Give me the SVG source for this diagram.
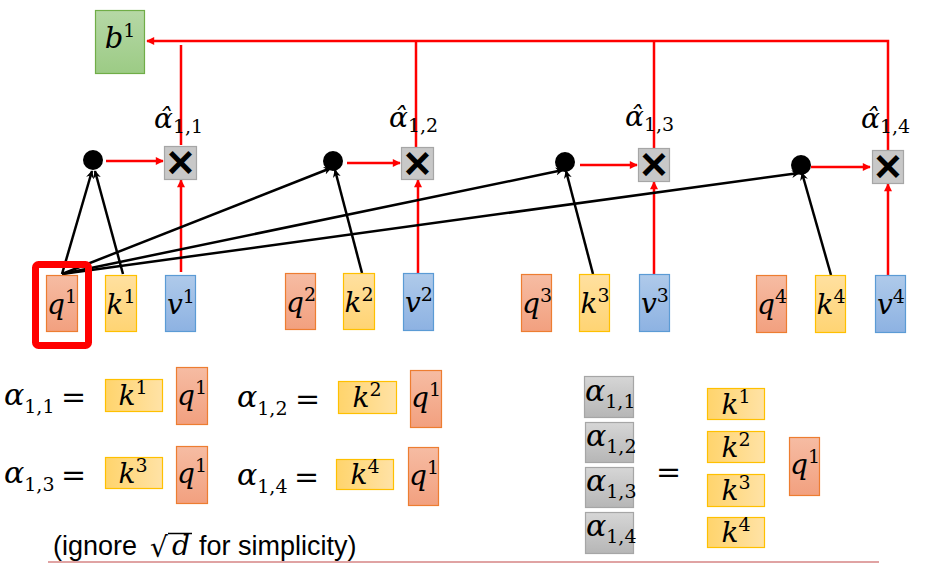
<svg xmlns="http://www.w3.org/2000/svg" width="930" height="573" viewBox="0 0 930 573">
<defs>
<linearGradient id="gq" x1="0" y1="0" x2="0" y2="1"><stop offset="0" stop-color="#f6bca3"/><stop offset="1" stop-color="#f2a07f"/></linearGradient>
<linearGradient id="gk" x1="0" y1="0" x2="0" y2="1"><stop offset="0" stop-color="#ffe0a0"/><stop offset="1" stop-color="#ffd473"/></linearGradient>
<linearGradient id="gkh" x1="0" y1="0" x2="1" y2="0"><stop offset="0" stop-color="#ffd46c"/><stop offset="1" stop-color="#ffe2a6"/></linearGradient>
<linearGradient id="gv" x1="0" y1="0" x2="0" y2="1"><stop offset="0" stop-color="#afcaea"/><stop offset="1" stop-color="#8db2e2"/></linearGradient>
<linearGradient id="gb" x1="0" y1="0" x2="0" y2="1"><stop offset="0" stop-color="#b6d8a6"/><stop offset="1" stop-color="#9ccb85"/></linearGradient>
<linearGradient id="ga" x1="0" y1="0" x2="0" y2="1"><stop offset="0" stop-color="#d6d6d6"/><stop offset="1" stop-color="#b6b6b6"/></linearGradient>
<marker id="ar" viewBox="0 0 10 10" refX="9" refY="5" markerWidth="9" markerHeight="8" markerUnits="userSpaceOnUse" orient="auto"><path d="M0,0 L10,5 L0,10 z" fill="#ff0000"/></marker>
<marker id="ab" viewBox="0 0 10 10" refX="9" refY="5" markerWidth="8" markerHeight="8" markerUnits="userSpaceOnUse" orient="auto"><path d="M0,0 L10,5 L0,10 L3,5 z" fill="#000"/></marker>
</defs>
<style>
.m{font-family:"DejaVu Serif","Liberation Serif",serif;font-style:italic;fill:#000}
.n{font-style:normal}
.q{fill:url(#gq);stroke:#ed7d31;stroke-width:1.2}
.k{fill:url(#gk);stroke:#ffc000;stroke-width:1.2}
.kh{fill:url(#gkh);stroke:#ffc000;stroke-width:1.2}
.v{fill:url(#gv);stroke:#5b9bd5;stroke-width:1.2}
.g{fill:url(#ga);stroke:#a6a6a6;stroke-width:1.2}
.x{fill:#c8c8c8;stroke:#a6a6a6;stroke-width:1.2}
.r{stroke:#ff0000;stroke-width:2.5;fill:none}
.bl{stroke:#000;stroke-width:2.5;fill:none}
.s{font-family:"Liberation Sans","DejaVu Sans",sans-serif;fill:#000}
.t{font-size:28px}
.sp{font-size:19px;font-style:normal}
.mul{font-family:"Liberation Sans",sans-serif;font-weight:bold;font-size:46px;text-anchor:middle}
</style>

<g id="connectors">
<polyline class="r" points="888,150 888,41 147,41" marker-end="url(#ar)"/>
<line class="r" x1="181" y1="145" x2="181" y2="45"/>
<line class="r" x1="416" y1="147" x2="416" y2="41"/>
<line class="r" x1="654" y1="148" x2="654" y2="41"/>
<line class="r" x1="106" y1="161" x2="163" y2="161" marker-end="url(#ar)"/>
<line class="r" x1="347" y1="163" x2="400" y2="163" marker-end="url(#ar)"/>
<line class="r" x1="580" y1="165" x2="637" y2="165" marker-end="url(#ar)"/>
<line class="r" x1="811" y1="167" x2="870" y2="167" marker-end="url(#ar)"/>
<line class="r" x1="181" y1="272" x2="181" y2="180" marker-end="url(#ar)"/>
<line class="r" x1="418" y1="273" x2="418" y2="180" marker-end="url(#ar)"/>
<line class="r" x1="654" y1="274" x2="654" y2="182" marker-end="url(#ar)"/>
<line class="r" x1="888" y1="276" x2="888" y2="184" marker-end="url(#ar)"/>
<line class="bl" x1="62" y1="274" x2="92" y2="171" marker-end="url(#ab)"/>
<line class="bl" x1="123" y1="274" x2="95" y2="171" marker-end="url(#ab)"/>
<line class="bl" x1="62" y1="274" x2="331" y2="168" marker-end="url(#ab)"/>
<line class="bl" x1="62" y1="274" x2="563" y2="170" marker-end="url(#ab)"/>
<line class="bl" x1="62" y1="274" x2="799" y2="173" marker-end="url(#ab)"/>
<line class="bl" x1="362" y1="273" x2="335" y2="170" marker-end="url(#ab)"/>
<line class="bl" x1="593" y1="274" x2="566" y2="171" marker-end="url(#ab)"/>
<line class="bl" x1="831" y1="275" x2="802" y2="173" marker-end="url(#ab)"/>
</g>

<g id="b1"><rect x="95.5" y="10.5" width="49" height="63" fill="url(#gb)" stroke="#70ad47" stroke-width="1.2"/>
<text class="m" x="120" y="48" font-size="29" text-anchor="middle">b<tspan class="sp" dy="-11">1</tspan></text></g>

<g id="dot1"><circle cx="93" cy="160" r="10"/></g>
<g id="dot2"><circle cx="333" cy="161" r="10"/></g>
<g id="dot3"><circle cx="565" cy="162" r="10"/></g>
<g id="dot4"><circle cx="801" cy="165" r="10"/></g>

<g id="mul1"><rect class="x" x="164.5" y="146.5" width="32" height="33"/><text class="mul" x="180.5" y="178">×</text>
<text class="m" x="154" y="128" font-size="28">α̂<tspan class="sp" font-size="18" dy="5">1,1</tspan></text></g>
<g id="mul2"><rect class="x" x="401.5" y="147.5" width="32" height="32"/><text class="mul" x="417.5" y="179">×</text>
<text class="m" x="389" y="127" font-size="28">α̂<tspan class="sp" font-size="18" dy="5">1,2</tspan></text></g>
<g id="mul3"><rect class="x" x="638.5" y="148.5" width="31" height="33"/><text class="mul" x="654" y="180">×</text>
<text class="m" x="625" y="126" font-size="28">α̂<tspan class="sp" font-size="18" dy="5">1,3</tspan></text></g>
<g id="mul4"><rect class="x" x="872.5" y="150.5" width="31" height="33"/><text class="mul" x="888" y="182">×</text>
<text class="m" x="861" y="128" font-size="28">α̂<tspan class="sp" font-size="18" dy="5">1,4</tspan></text></g>

<g id="q1"><rect class="q" x="46.5" y="275.5" width="31" height="56"/><text class="m t" x="62" y="314" text-anchor="middle">q<tspan class="sp" dy="-11">1</tspan></text>
<rect x="35.5" y="264.5" width="53" height="81" rx="3" fill="none" stroke="#ff0000" stroke-width="7"/></g>
<g id="k1"><rect class="k" x="105.5" y="275.5" width="31" height="56"/><text class="m t" x="121" y="314" text-anchor="middle">k<tspan class="sp" dy="-11">1</tspan></text></g>
<g id="v1"><rect class="v" x="165.5" y="275.5" width="30" height="56"/><text class="m t" x="181" y="314" text-anchor="middle">v<tspan class="sp" dy="-11">1</tspan></text></g>
<g id="q2"><rect class="q" x="285.5" y="273.5" width="30" height="56"/><text class="m t" x="301" y="312" text-anchor="middle">q<tspan class="sp" dy="-11">2</tspan></text></g>
<g id="k2"><rect class="k" x="343.5" y="273.5" width="31" height="56"/><text class="m t" x="359" y="312" text-anchor="middle">k<tspan class="sp" dy="-11">2</tspan></text></g>
<g id="v2"><rect class="v" x="403.5" y="273.5" width="30" height="57"/><text class="m t" x="419" y="312" text-anchor="middle">v<tspan class="sp" dy="-11">2</tspan></text></g>
<g id="q3"><rect class="q" x="521.5" y="274.5" width="30" height="57"/><text class="m t" x="537" y="313" text-anchor="middle">q<tspan class="sp" dy="-11">3</tspan></text></g>
<g id="k3"><rect class="k" x="579.5" y="274.5" width="30" height="57"/><text class="m t" x="595" y="313" text-anchor="middle">k<tspan class="sp" dy="-11">3</tspan></text></g>
<g id="v3"><rect class="v" x="639.5" y="274.5" width="30" height="57"/><text class="m t" x="655" y="313" text-anchor="middle">v<tspan class="sp" dy="-11">3</tspan></text></g>
<g id="q4"><rect class="q" x="756.5" y="275.5" width="30" height="57"/><text class="m t" x="772" y="314" text-anchor="middle">q<tspan class="sp" dy="-11">4</tspan></text></g>
<g id="k4"><rect class="k" x="815.5" y="275.5" width="30" height="57"/><text class="m t" x="831" y="314" text-anchor="middle">k<tspan class="sp" dy="-11">4</tspan></text></g>
<g id="v4"><rect class="v" x="875.5" y="275.5" width="30" height="57"/><text class="m t" x="891" y="314" text-anchor="middle">v<tspan class="sp" dy="-11">4</tspan></text></g>

<g id="eq11"><text class="m" x="4" y="405" font-size="30">α<tspan class="sp" dy="8">1,1</tspan></text><text class="m n" x="61" y="407" font-size="30">=</text>
<rect class="kh" x="105.5" y="379.5" width="57" height="32"/><text class="m t" x="133" y="405" text-anchor="middle">k<tspan class="sp" dy="-11">1</tspan></text>
<rect class="q" x="176.5" y="367.5" width="31" height="57"/><text class="m t" x="192" y="405" text-anchor="middle">q<tspan class="sp" dy="-11">1</tspan></text></g>
<g id="eq12"><text class="m" x="237" y="407" font-size="30">α<tspan class="sp" dy="8">1,2</tspan></text><text class="m n" x="295" y="409" font-size="30">=</text>
<rect class="kh" x="338.5" y="381.5" width="58" height="32"/><text class="m t" x="367" y="407" text-anchor="middle">k<tspan class="sp" dy="-11">2</tspan></text>
<rect class="q" x="410.5" y="370.5" width="31" height="57"/><text class="m t" x="426" y="407" text-anchor="middle">q<tspan class="sp" dy="-11">1</tspan></text></g>
<g id="eq13"><text class="m" x="4" y="483" font-size="30">α<tspan class="sp" dy="8">1,3</tspan></text><text class="m n" x="61" y="485" font-size="30">=</text>
<rect class="kh" x="105.5" y="457.5" width="57" height="31"/><text class="m t" x="133" y="483" text-anchor="middle">k<tspan class="sp" dy="-11">3</tspan></text>
<rect class="q" x="176.5" y="446.5" width="31" height="57"/><text class="m t" x="192" y="483" text-anchor="middle">q<tspan class="sp" dy="-11">1</tspan></text></g>
<g id="eq14"><text class="m" x="237" y="485" font-size="30">α<tspan class="sp" dy="8">1,4</tspan></text><text class="m n" x="294" y="487" font-size="30">=</text>
<rect class="kh" x="336.5" y="459.5" width="57" height="30"/><text class="m t" x="365" y="484" text-anchor="middle">k<tspan class="sp" dy="-11">4</tspan></text>
<rect class="q" x="408.5" y="447.5" width="30" height="58"/><text class="m t" x="424" y="485" text-anchor="middle">q<tspan class="sp" dy="-11">1</tspan></text></g>

<g id="note"><text class="s" x="53" y="555" font-size="27">(ignore</text>
<text x="150" y="557" font-family="'DejaVu Sans',sans-serif" font-size="28">√</text>
<line x1="168" y1="533.5" x2="192" y2="533.5" stroke="#000" stroke-width="1.5"/>
<text class="m" x="172" y="555" font-size="28">d</text>
<text class="s" x="199" y="555" font-size="27">for simplicity)</text></g>
<line x1="48" y1="562" x2="879" y2="562" stroke="#e0a3a3" stroke-width="2"/>

<g id="avec"><rect class="g" x="584.5" y="376.5" width="49" height="41"/><text class="m" x="585" y="401" font-size="30">α<tspan class="sp" font-size="18" dy="7">1,1</tspan></text>
<rect class="g" x="585.5" y="422.5" width="48" height="40"/><text class="m" x="586" y="446" font-size="30">α<tspan class="sp" font-size="18" dy="7">1,2</tspan></text>
<rect class="g" x="585.5" y="467.5" width="48" height="40"/><text class="m" x="586" y="491" font-size="30">α<tspan class="sp" font-size="18" dy="7">1,3</tspan></text>
<rect class="g" x="585.5" y="512.5" width="48" height="41"/><text class="m" x="586" y="536" font-size="30">α<tspan class="sp" font-size="18" dy="7">1,4</tspan></text></g>
<g id="eqv"><text class="m n" x="656" y="482" font-size="30">=</text></g>
<g id="kvec"><rect class="kh" x="707.5" y="388.5" width="57" height="31"/><text class="m t" x="736" y="414" text-anchor="middle">k<tspan class="sp" dy="-11">1</tspan></text>
<rect class="kh" x="707.5" y="431.5" width="57" height="31"/><text class="m t" x="736" y="457" text-anchor="middle">k<tspan class="sp" dy="-11">2</tspan></text>
<rect class="kh" x="707.5" y="474.5" width="57" height="32"/><text class="m t" x="736" y="500" text-anchor="middle">k<tspan class="sp" dy="-11">3</tspan></text>
<rect class="kh" x="707.5" y="517.5" width="57" height="30"/><text class="m t" x="736" y="542" text-anchor="middle">k<tspan class="sp" dy="-11">4</tspan></text></g>
<g id="qv"><rect class="q" x="789.5" y="437.5" width="30" height="58"/><text class="m t" x="805" y="474" text-anchor="middle">q<tspan class="sp" dy="-11">1</tspan></text></g>
</svg>
